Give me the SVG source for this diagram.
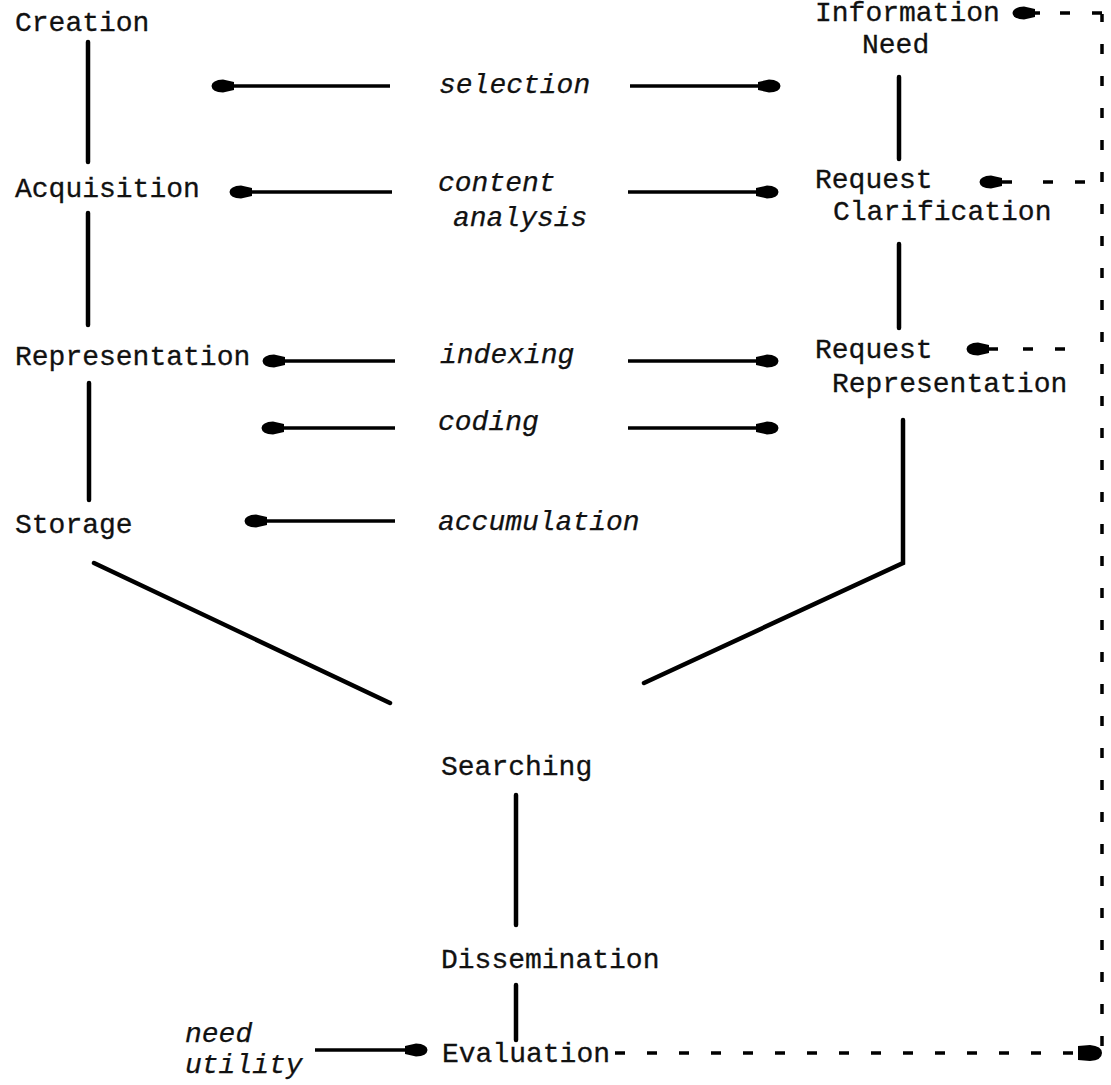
<svg xmlns="http://www.w3.org/2000/svg" width="1111" height="1085" viewBox="0 0 1111 1085">
  <style>
    .lbl { font-family: "Liberation Mono", "DejaVu Sans Mono", monospace; font-size: 28px; fill: #111; stroke: #111; stroke-width: 0.3; }
    .act { font-family: "Liberation Mono", "DejaVu Sans Mono", monospace; font-style: italic; font-size: 28px; fill: #111; stroke: #111; stroke-width: 0.25; }
    .ln { stroke: #000; stroke-width: 4.5; stroke-linecap: round; fill: none; }
    .ar { stroke: #000; stroke-width: 3.5; fill: none; marker-end: url(#head); }
    .dash { stroke: #000; stroke-width: 3.5; fill: none; stroke-dasharray: 10 22; }
  </style>
  <defs>
    <marker id="head" markerUnits="userSpaceOnUse" markerWidth="28" markerHeight="18" viewBox="-24 -9 26 18" refX="0" refY="0" orient="auto">
      <path d="M-22,-4 L-11,-6.5 Q0,-6 0.5,0 Q0,6 -11,6.5 L-22,4 Z" fill="#000"/>
    </marker>
  </defs>

  <rect width="1111" height="1085" fill="#fff"/>

  <!-- left column: document side -->
  <g id="creation"><text class="lbl" x="15" y="31">Creation</text></g>
  <g id="acquisition"><text class="lbl" x="15" y="197">Acquisition</text></g>
  <g id="representation"><text class="lbl" x="15" y="365">Representation</text></g>
  <g id="storage"><text class="lbl" x="15" y="533">Storage</text></g>

  <!-- right column: request side -->
  <g id="information-need">
    <text class="lbl" x="815" y="21">Information</text>
    <text class="lbl" x="862" y="53">Need</text>
  </g>
  <g id="request-clarification">
    <text class="lbl" x="815" y="188">Request</text>
    <text class="lbl" x="833" y="220">Clarification</text>
  </g>
  <g id="request-representation">
    <text class="lbl" x="815" y="358">Request</text>
    <text class="lbl" x="832" y="392">Representation</text>
  </g>

  <!-- shared stages -->
  <g id="searching"><text class="lbl" x="441" y="775">Searching</text></g>
  <g id="dissemination"><text class="lbl" x="441" y="968">Dissemination</text></g>
  <g id="evaluation"><text class="lbl" x="442" y="1062">Evaluation</text></g>

  <!-- activity labels -->
  <g id="selection"><text class="act" x="439" y="93">selection</text></g>
  <g id="content-analysis">
    <text class="act" x="438" y="191">content</text>
    <text class="act" x="453" y="226">analysis</text>
  </g>
  <g id="indexing"><text class="act" x="440" y="363">indexing</text></g>
  <g id="coding"><text class="act" x="438" y="430">coding</text></g>
  <g id="accumulation"><text class="act" x="438" y="530">accumulation</text></g>
  <g id="need-utility">
    <text class="act" x="185" y="1042">need</text>
    <text class="act" x="185" y="1073">utility</text>
  </g>

  <g id="connectors">
    <!-- solid links between stages -->
    <line class="ln" x1="88" y1="42" x2="88" y2="162"/>
    <line class="ln" x1="88" y1="213" x2="88" y2="325"/>
    <line class="ln" x1="89" y1="383" x2="89" y2="500"/>
    <line class="ln" x1="899" y1="77" x2="899" y2="159"/>
    <line class="ln" x1="899" y1="244" x2="899" y2="328"/>
    <polyline class="ln" points="903,420 903,563 644,683"/>
    <line class="ln" x1="94" y1="563" x2="390" y2="703"/>
    <line class="ln" x1="516" y1="795" x2="516" y2="925"/>
    <line class="ln" x1="516" y1="985" x2="516" y2="1040"/>

    <!-- activity arrows -->
    <line class="ar" x1="390" y1="86" x2="212" y2="86"/>
    <line class="ar" x1="630" y1="86" x2="780" y2="86"/>
    <line class="ar" x1="392" y1="192" x2="230" y2="192"/>
    <line class="ar" x1="628" y1="192" x2="778" y2="192"/>
    <line class="ar" x1="395" y1="361" x2="263" y2="361"/>
    <line class="ar" x1="628" y1="361" x2="778" y2="361"/>
    <line class="ar" x1="395" y1="428" x2="262" y2="428"/>
    <line class="ar" x1="628" y1="428" x2="778" y2="428"/>
    <line class="ar" x1="395" y1="521" x2="245" y2="521"/>
    <line class="ar" x1="315" y1="1050" x2="427" y2="1050"/>

    <!-- feedback loop from evaluation -->
    <line class="dash" x1="615" y1="1053" x2="1080" y2="1053" stroke-width="4.5" stroke-dasharray="13 19"/>
    <path d="M1078,1046 L1090,1045 Q1102,1046 1102,1053 Q1102,1060 1090,1061 L1078,1060 Z" fill="#000"/>
    <line class="dash" x1="1102" y1="1046" x2="1102" y2="14" stroke-dasharray="9 21"/>
    <line class="dash" x1="1102" y1="13" x2="1052" y2="13" stroke-dasharray="15 15"/>
    <line class="ar" x1="1040" y1="13" x2="1013" y2="13"/>
    <line class="dash" x1="1085" y1="182" x2="1027" y2="182" stroke-dasharray="15 27"/>
    <line class="ar" x1="1012" y1="182" x2="980" y2="182"/>
    <line class="dash" x1="1065" y1="349" x2="1013" y2="349" stroke-dasharray="17 17"/>
    <line class="ar" x1="998" y1="349" x2="967" y2="349"/>
  </g>
</svg>
